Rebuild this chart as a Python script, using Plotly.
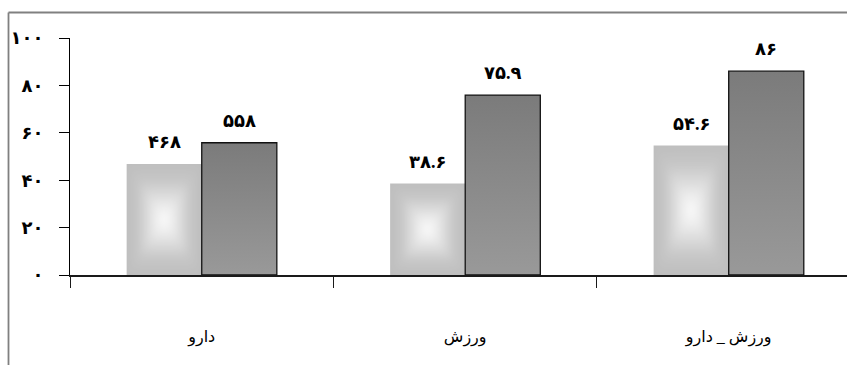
import base64
import plotly.graph_objects as go

# --- data -------------------------------------------------------------
categories = ["دارو", "ورزش", "ورزش _ دارو"]
series_a = [46.8, 38.6, 54.6]          # light bars
series_b = [55.8, 75.9, 86.0]          # dark bars
labels_a = ["۴۶۸", "۳۸.۶", "۵۴.۶"]
labels_b = ["۵۵۸", "۷۵.۹", "۸۶"]
ytick_vals = [0, 20, 40, 60, 80, 100]
ytick_text = ["۰", "۲۰", "۴۰", "۶۰", "۸۰", "۱۰۰"]

# --- styling ----------------------------------------------------------
W, H = 847, 365
M_L, M_R, M_T, M_B = 70, 0, 38, 90
PLOT_W, PLOT_H = W - M_L - M_R, H - M_T - M_B
BARGAP = 0.43
BAR_W = (1 - BARGAP) / 2
X_RANGE = [-0.5, 2.449]
FONT = "Liberation Serif, Times New Roman, DejaVu Sans, serif"


def svg_uri(svg):
    return "data:image/svg+xml;base64," + base64.b64encode(svg.encode()).decode()


# box ("from centre") gradient: four triangles fading to white, softened
def box_gradient(edge, mid, centre):
    stops = (f'<stop offset="0" stop-color="{edge}"/>'
             f'<stop offset="0.3" stop-color="{mid}"/>'
             f'<stop offset="1" stop-color="{centre}"/>')
    return svg_uri(
        '<svg xmlns="http://www.w3.org/2000/svg" viewBox="0 0 100 100" '
        'preserveAspectRatio="none" width="100" height="100">'
        '<defs>'
        f'<linearGradient id="t" x1="0" y1="0" x2="0" y2="1">{stops}</linearGradient>'
        f'<linearGradient id="b" x1="0" y1="1" x2="0" y2="0">{stops}</linearGradient>'
        f'<linearGradient id="l" x1="0" y1="0" x2="1" y2="0">{stops}</linearGradient>'
        f'<linearGradient id="r" x1="1" y1="0" x2="0" y2="0">{stops}</linearGradient>'
        '<filter id="soft" x="-30%" y="-30%" width="160%" height="160%">'
        '<feGaussianBlur stdDeviation="5"/></filter>'
        '</defs>'
        f'<g filter="url(#soft)">'
        f'<rect x="-30" y="-30" width="160" height="160" fill="{edge}"/>'
        '<polygon points="0,0 100,0 50,50" fill="url(#t)"/>'
        '<polygon points="0,100 100,100 50,50" fill="url(#b)"/>'
        '<polygon points="0,0 0,100 50,50" fill="url(#l)"/>'
        '<polygon points="100,0 100,100 50,50" fill="url(#r)"/>'
        '</g></svg>')


def vertical_gradient(top, bottom):
    return svg_uri(
        '<svg xmlns="http://www.w3.org/2000/svg" viewBox="0 0 100 100" '
        'preserveAspectRatio="none" width="100" height="100">'
        '<defs><linearGradient id="g" x1="0" y1="0" x2="0" y2="1">'
        f'<stop offset="0" stop-color="{top}"/><stop offset="1" stop-color="{bottom}"/>'
        '</linearGradient></defs>'
        '<rect width="100" height="100" fill="url(#g)"/></svg>')


light_fill = box_gradient("#bebebe", "#c6c6c6", "#ffffff")
dark_fill = vertical_gradient("#7b7b7b", "#999999")

fig = go.Figure()
fig.add_trace(go.Bar(x=categories, y=series_a, name="a",
                     marker=dict(color="rgba(0,0,0,0)", line=dict(width=0))))
fig.add_trace(go.Bar(x=categories, y=series_b, name="b",
                     marker=dict(color="rgba(0,0,0,0)",
                                 line=dict(color="#111111", width=1.3))))

images = []
annotations = []
for i, (va, vb, ta, tb) in enumerate(zip(series_a, series_b, labels_a, labels_b)):
    for v, txt, src, x_left in ((va, ta, light_fill, i - BAR_W),
                                (vb, tb, dark_fill, i)):
        images.append(dict(source=src, xref="x", yref="y", x=x_left, y=v,
                           sizex=BAR_W, sizey=v, xanchor="left", yanchor="top",
                           sizing="stretch", layer="below"))
        annotations.append(dict(x=x_left + BAR_W / 2, y=v, xref="x", yref="y",
                                text=txt, showarrow=False, yanchor="bottom",
                                yshift=10,
                                font=dict(family=FONT, size=18, color="#000000",
                                          weight="bold")))

# sheet frame: left and top edges, placed in paper units from pixel offsets
FRAME_X = -(M_L - 8.5) / PLOT_W
FRAME_TOP = 1 + (M_T - 12.5) / PLOT_H
FRAME_LINE = dict(color="#808080", width=1.8)
shapes = [
    dict(type="line", xref="paper", yref="paper", x0=FRAME_X, x1=FRAME_X,
         y0=FRAME_TOP, y1=-(M_B + 10) / PLOT_H, line=FRAME_LINE),
    dict(type="line", xref="paper", yref="paper", x0=FRAME_X, x1=1 + 10 / PLOT_W,
         y0=FRAME_TOP, y1=FRAME_TOP, line=FRAME_LINE),
]

fig.update_layout(
    width=W, height=H,
    margin=dict(l=M_L, r=M_R, t=M_T, b=M_B, pad=0),
    paper_bgcolor="#ffffff", plot_bgcolor="rgba(0,0,0,0)",
    barmode="group", bargap=BARGAP, bargroupgap=0,
    showlegend=False,
    images=images, annotations=annotations, shapes=shapes,
    font=dict(family=FONT, size=15, color="#000000"),
)
fig.update_xaxes(
    type="category", range=X_RANGE, showgrid=False, zeroline=False,
    showline=True, linecolor="#1a1a1a", linewidth=1.8,
    ticks="outside", tickson="boundaries", ticklen=11, tickcolor="#1a1a1a",
    tickwidth=1, ticklabelstandoff=46,
    tickfont=dict(family=FONT, size=16, color="#000000"),
)
fig.update_yaxes(
    range=[0, 100], showgrid=False, zeroline=False,
    showline=True, linecolor="#000000", linewidth=1,
    tickmode="array", tickvals=ytick_vals, ticktext=ytick_text,
    ticks="outside", ticklen=10, tickcolor="#000000", tickwidth=1,
    ticklabelstandoff=12,
    tickfont=dict(family=FONT, size=18, color="#000000", weight="bold"),
)

fig.write_html("out.html")
